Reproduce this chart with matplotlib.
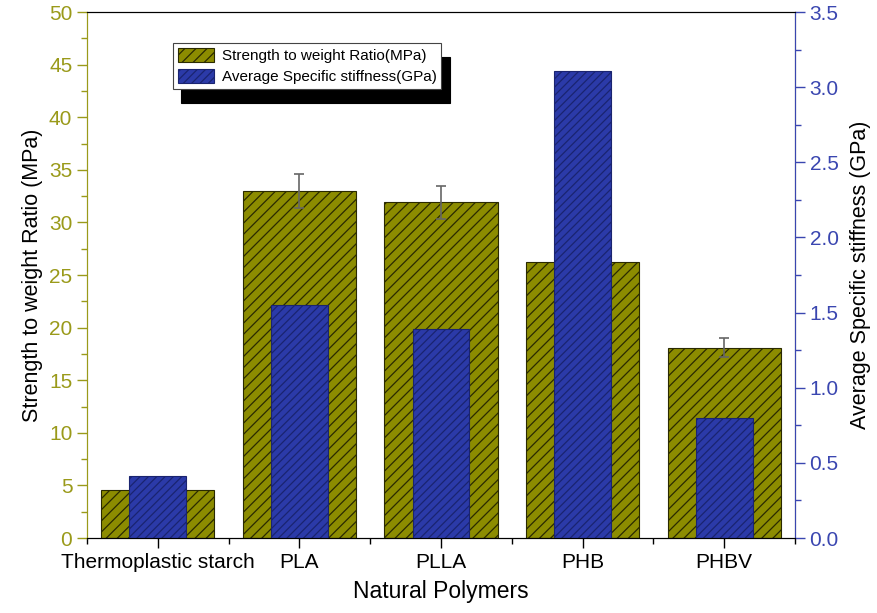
import numpy as np
import matplotlib.pyplot as plt
from matplotlib.patches import Patch
from matplotlib.ticker import MultipleLocator

# Data
polymers = ["Thermoplastic starch", "PLA", "PLLA", "PHB", "PHBV"]
strength = [4.6, 33.0, 31.9, 26.2, 18.1]
strength_err = [0.0, 1.6, 1.55, 0.0, 0.9]
stiffness = [0.41, 1.55, 1.39, 3.11, 0.80]

green = "#8c8c00"
green_axis = "#9a9a1a"
blue = "#2b3aa8"
blue_axis = "#3a46b0"

plt.rcParams["font.family"] = ["Liberation Sans", "DejaVu Sans"]
plt.rcParams["hatch.linewidth"] = 0.9

fig = plt.figure(figsize=(8.78, 6.13), dpi=100)
ax = fig.add_axes([0.099, 0.1223, 0.8065, 0.8581])
ax2 = ax.twinx()

x = np.arange(len(polymers))

ax.bar(x, strength, width=0.8, color=green, edgecolor="#2a2a00",
       linewidth=0.8, hatch="///", zorder=2)
ax.errorbar(x, strength, yerr=strength_err, fmt="none", ecolor="#666666",
            elinewidth=1.2, capsize=3.5, capthick=1.2, zorder=3)

ax2.bar(x, stiffness, width=0.4, color=blue, edgecolor="#1a2470",
        linewidth=0.8, hatch="////", zorder=2)

# left axis
ax.set_xlim(-0.5, 4.5)
ax.set_ylim(0, 50)
ax.yaxis.set_major_locator(MultipleLocator(5))
ax.yaxis.set_minor_locator(MultipleLocator(2.5))
ax.set_xticks(x)
ax.set_xticklabels(polymers, fontsize=15)
ax.set_xticks(np.arange(-0.5, 5.0, 1.0), minor=True)
ax.tick_params(axis="y", which="both", colors=green_axis, labelsize=15)
ax.tick_params(axis="y", which="major", length=7, width=1)
ax.tick_params(axis="y", which="minor", length=4, width=1)
ax.tick_params(axis="x", which="major", length=7, width=1)
ax.tick_params(axis="x", which="minor", length=4, width=1)
ax.spines["left"].set_color(green_axis)
ax.set_ylabel("Strength to weight Ratio (MPa)", fontsize=15.5)
ax.set_xlabel("Natural Polymers", fontsize=16.5, labelpad=6)

# right axis
ax2.set_ylim(0, 3.5)
ax2.yaxis.set_major_locator(MultipleLocator(0.5))
ax2.yaxis.set_minor_locator(MultipleLocator(0.25))
ax2.yaxis.set_major_formatter(plt.FormatStrFormatter("%.1f"))
ax2.tick_params(axis="y", which="both", colors=blue_axis, labelsize=15)
ax2.tick_params(axis="y", which="major", length=7, width=1)
ax2.tick_params(axis="y", which="minor", length=4, width=1)
ax2.spines["right"].set_color(blue_axis)
ax2.spines["left"].set_color(green_axis)
ax2.set_ylabel("Average Specific stiffness (GPa)", fontsize=15.5, labelpad=8)

handles = [
    Patch(facecolor=green, edgecolor="#2a2a00", hatch="///", linewidth=0.8),
    Patch(facecolor=blue, edgecolor="#1a2470", hatch="////", linewidth=0.8),
]
leg = ax2.legend(handles, ["Strength to weight Ratio(MPa)",
                           "Average Specific stiffness(GPa)"],
                 loc="upper left", bbox_to_anchor=(0.1215, 0.941),
                 borderaxespad=0,
                 fontsize=11, fancybox=False, framealpha=1,
                 edgecolor="#444444", borderpad=0.3, labelspacing=0.35,
                 handlelength=2.4, handleheight=1.1, handletextpad=0.5,
                 shadow={"color": "black", "alpha": 1, "ox": 6, "oy": -10})
leg.get_frame().set_linewidth(0.8)

plt.savefig("out.png", dpi=100)
